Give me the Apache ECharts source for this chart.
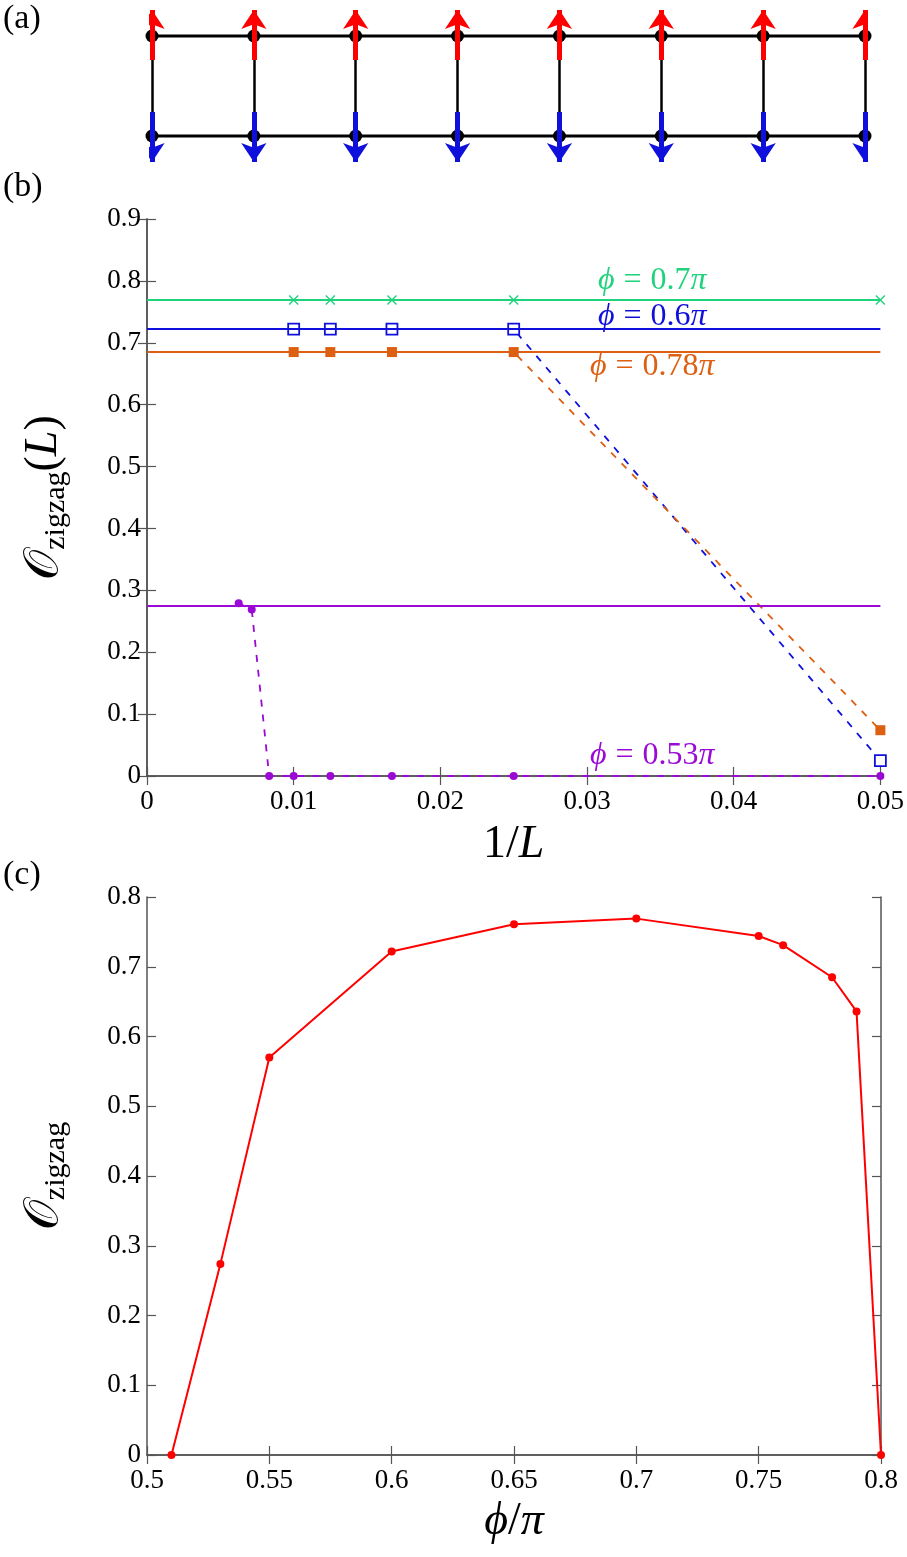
<!DOCTYPE html>
<html>
<head>
<meta charset="utf-8">
<script src="https://cdn.jsdelivr.net/npm/echarts@6/dist/echarts.min.js"></script>
<style>
  html, body { margin: 0; padding: 0; background: #fff; }
  #chart { width: 907px; height: 1557px; }
</style>
</head>
<body>
<div id="chart"></div>
<script>
// (a) ladder sites, spin direction on each leg
const sites = [0, 1, 2, 3, 4, 5, 6, 7]
const upperSpins = [1, 1, 1, 1, 1, 1, 1, 1]
const lowerSpins = [-1, -1, -1, -1, -1, -1, -1, -1]

// (b) finite size data, 1/L
const invL = [0.01, 0.0125, 0.0167, 0.025, 0.05]
const order070 = [0.769, 0.769, 0.769, 0.769, 0.769]
const order060 = [0.722, 0.722, 0.722, 0.722, 0.025]
const order078 = [0.685, 0.685, 0.685, 0.685, 0.074]
const invL053 = [0.00625, 0.00714, 0.00833, 0.01, 0.0125, 0.0167, 0.025, 0.05]
const order053 = [0.279, 0.269, 0, 0, 0, 0, 0, 0]
// extrapolated values (solid lines)
const limit070 = 0.769
const limit060 = 0.722
const limit078 = 0.685
const limit053 = 0.275

// (c) order parameter vs phi/pi
const phiOverPi = [0.51, 0.53, 0.55, 0.6, 0.65, 0.7, 0.75, 0.76, 0.78, 0.79, 0.8]
const orderParam = [0, 0.274, 0.57, 0.722, 0.761, 0.769, 0.744, 0.731, 0.685, 0.636, 0]

const GREEN = '#1fd27c'
const BLUE = '#1010dd'
const ORANGE = '#dd5f12'
const PURPLE = '#9a09d6'
const RED = '#ff0000'
const SERIF = '"Liberation Serif", "DejaVu Serif", serif'
const AXIS_COL = '#555'

const chart = echarts.init(document.getElementById('chart'))

const zip = (xs, ys) => xs.map((x, i) => [x, ys[i]])

// arrows: tail a bit on the other side of the site, tip outward
const arrows = (leg, spins) => sites.map((s, i) => ({
  coords: [[s, leg - 0.24 * spins[i]], [s, leg + 0.26 * spins[i]]]
}))

function boxAxes(gridIndex, min, max, interval, withLabels, position) {
  return {
    gridIndex,
    type: 'value',
    min, max, interval,
    position,
    axisLine: { show: true, lineStyle: { color: AXIS_COL, width: 1.5 } },
    axisTick: { show: true, inside: true, length: 9, lineStyle: { color: AXIS_COL, width: 1.2 } },
    axisLabel: {
      show: withLabels,
      fontFamily: SERIF, fontSize: 27, color: '#000',
      margin: position === 'bottom' ? 12 : 6
    },
    splitLine: { show: false }
  }
}

const hidden = (gridIndex, min, max) => ({
  gridIndex, type: 'value', min, max, show: false
})

const hLine = (value, color) => ({
  silent: true,
  symbol: 'none',
  precision: 4,
  label: { show: false },
  lineStyle: { color, width: 2, type: 'solid' },
  data: [{ yAxis: value }]
})

const dashed = color => ({ color, width: 1.8, type: [7, 8] })

const phiLabel = (val, color, left, top) => ({
  type: 'text', left, top,
  style: {
    text: '{i|ϕ}{e|=}' + val + '{i|π}',
    fill: color,
    font: '32px ' + SERIF,
    rich: {
      i: { fontStyle: 'italic', fontFamily: SERIF, fontSize: 32, fill: color },
      e: { fontFamily: SERIF, fontSize: 32, fill: color, padding: [0, 9, 0, 9] }
    }
  }
})

const nameRich = {
  o: { fontFamily: SERIF, fontSize: 48, color: '#000' },
  s: { fontFamily: SERIF, fontSize: 30, color: '#000', padding: [24, 0, 0, 0] },
  n: { fontFamily: SERIF, fontSize: 46, color: '#000' },
  i: { fontFamily: SERIF, fontSize: 46, fontStyle: 'italic', color: '#000' }
}

const option = {
  animation: false,
  backgroundColor: '#fff',
  grid: [
    { left: 152, width: 713, top: 6, height: 160 },
    { left: 147, width: 734, top: 219, height: 557 },
    { left: 147, width: 734, top: 897, height: 558 }
  ],
  xAxis: [
    hidden(0, 0, 7),
    Object.assign(boxAxes(1, 0, 0.05, 0.01, true, 'bottom'), {
      name: '{n|1/}{i|L}', nameLocation: 'middle', nameGap: 46,
      nameTextStyle: { rich: nameRich }
    }),
    boxAxes(1, 0, 0.05, 0.01, false, 'top'),
    Object.assign(boxAxes(2, 0.5, 0.8, 0.05, true, 'bottom'), {
      name: '{i|ϕ}{n|/}{i|π}', nameLocation: 'middle', nameGap: 44,
      nameTextStyle: { rich: nameRich }
    }),
    boxAxes(2, 0.5, 0.8, 0.05, false, 'top')
  ],
  yAxis: [
    hidden(0, -0.3, 1.3),
    Object.assign(boxAxes(1, 0, 0.9, 0.1, true, 'left'), {
      name: '{o|𝒪}{s|zigzag}{n|(}{i|L}{n|)}', nameLocation: 'middle', nameGap: 76, nameRotate: 90,
      nameTextStyle: { rich: nameRich }
    }),
    boxAxes(1, 0, 0.9, 0.1, false, 'right'),
    Object.assign(boxAxes(2, 0, 0.8, 0.1, true, 'left'), {
      name: '{o|𝒪}{s|zigzag}', nameLocation: 'middle', nameGap: 76, nameRotate: 90,
      nameTextStyle: { rich: nameRich }
    }),
    boxAxes(2, 0, 0.8, 0.1, false, 'right')
  ],
  graphic: [
    { type: 'text', left: 3, top: 2, style: { text: '(a)', font: '34px ' + SERIF, fill: '#000' } },
    { type: 'text', left: 3, top: 170, style: { text: '(b)', font: '34px ' + SERIF, fill: '#000' } },
    { type: 'text', left: 3, top: 858, style: { text: '(c)', font: '34px ' + SERIF, fill: '#000' } },
    phiLabel('0.7', GREEN, 598, 265),
    phiLabel('0.6', BLUE, 598, 301),
    phiLabel('0.78', ORANGE, 590, 351),
    phiLabel('0.53', PURPLE, 590, 740)
  ],
  series: [
    // ---- (a) ladder ----
    {
      type: 'lines', coordinateSystem: 'cartesian2d', xAxisIndex: 0, yAxisIndex: 0,
      polyline: false, silent: true, z: 1,
      lineStyle: { color: '#000', width: 2.5, opacity: 1 },
      data: sites.map(s => ({ coords: [[s, 0], [s, 1]] }))
    },
    {
      type: 'line', xAxisIndex: 0, yAxisIndex: 0, z: 2,
      data: sites.map(s => [s, 1]),
      lineStyle: { color: '#000', width: 3 },
      symbol: 'circle', symbolSize: 13, itemStyle: { color: '#000' }
    },
    {
      type: 'line', xAxisIndex: 0, yAxisIndex: 0, z: 2,
      data: sites.map(s => [s, 0]),
      lineStyle: { color: '#000', width: 3 },
      symbol: 'circle', symbolSize: 13, itemStyle: { color: '#000' }
    },
    {
      type: 'lines', coordinateSystem: 'cartesian2d', xAxisIndex: 0, yAxisIndex: 0,
      silent: true, z: 5,
      symbol: ['none', 'arrow'], symbolSize: 19,
      lineStyle: { color: RED, width: 5, opacity: 1 },
      data: arrows(1, upperSpins)
    },
    {
      type: 'lines', coordinateSystem: 'cartesian2d', xAxisIndex: 0, yAxisIndex: 0,
      silent: true, z: 5,
      symbol: ['none', 'arrow'], symbolSize: 19,
      lineStyle: { color: BLUE, width: 5, opacity: 1 },
      data: arrows(0, lowerSpins)
    },

    // ---- (b) finite size scaling ----
    {
      type: 'line', xAxisIndex: 1, yAxisIndex: 1, z: 3,
      data: zip(invL, order070),
      lineStyle: dashed(GREEN),
      symbol: 'path://M0,1L1,0L5,4L9,0L10,1L6,5L10,9L9,10L5,6L1,10L0,9L4,5Z',
      symbolSize: 10, itemStyle: { color: GREEN },
      markLine: hLine(limit070, GREEN)
    },
    {
      type: 'line', xAxisIndex: 1, yAxisIndex: 1, z: 3,
      data: zip(invL, order060),
      lineStyle: dashed(BLUE),
      symbol: 'rect', symbolSize: 11,
      itemStyle: { color: '#fff', borderColor: BLUE, borderWidth: 1.8 },
      markLine: hLine(limit060, BLUE)
    },
    {
      type: 'line', xAxisIndex: 1, yAxisIndex: 1, z: 3,
      data: zip(invL, order078),
      lineStyle: dashed(ORANGE),
      symbol: 'rect', symbolSize: 10, itemStyle: { color: ORANGE },
      markLine: hLine(limit078, ORANGE)
    },
    {
      type: 'line', xAxisIndex: 1, yAxisIndex: 1, z: 3,
      data: zip(invL053, order053),
      lineStyle: dashed(PURPLE),
      symbol: 'circle', symbolSize: 8, itemStyle: { color: PURPLE },
      markLine: hLine(limit053, PURPLE)
    },

    // ---- (c) order parameter ----
    {
      type: 'line', xAxisIndex: 3, yAxisIndex: 3, z: 3,
      data: zip(phiOverPi, orderParam),
      lineStyle: { color: RED, width: 2 },
      symbol: 'circle', symbolSize: 8, itemStyle: { color: RED }
    }
  ]
}

chart.setOption(option)
</script>
</body>
</html>
